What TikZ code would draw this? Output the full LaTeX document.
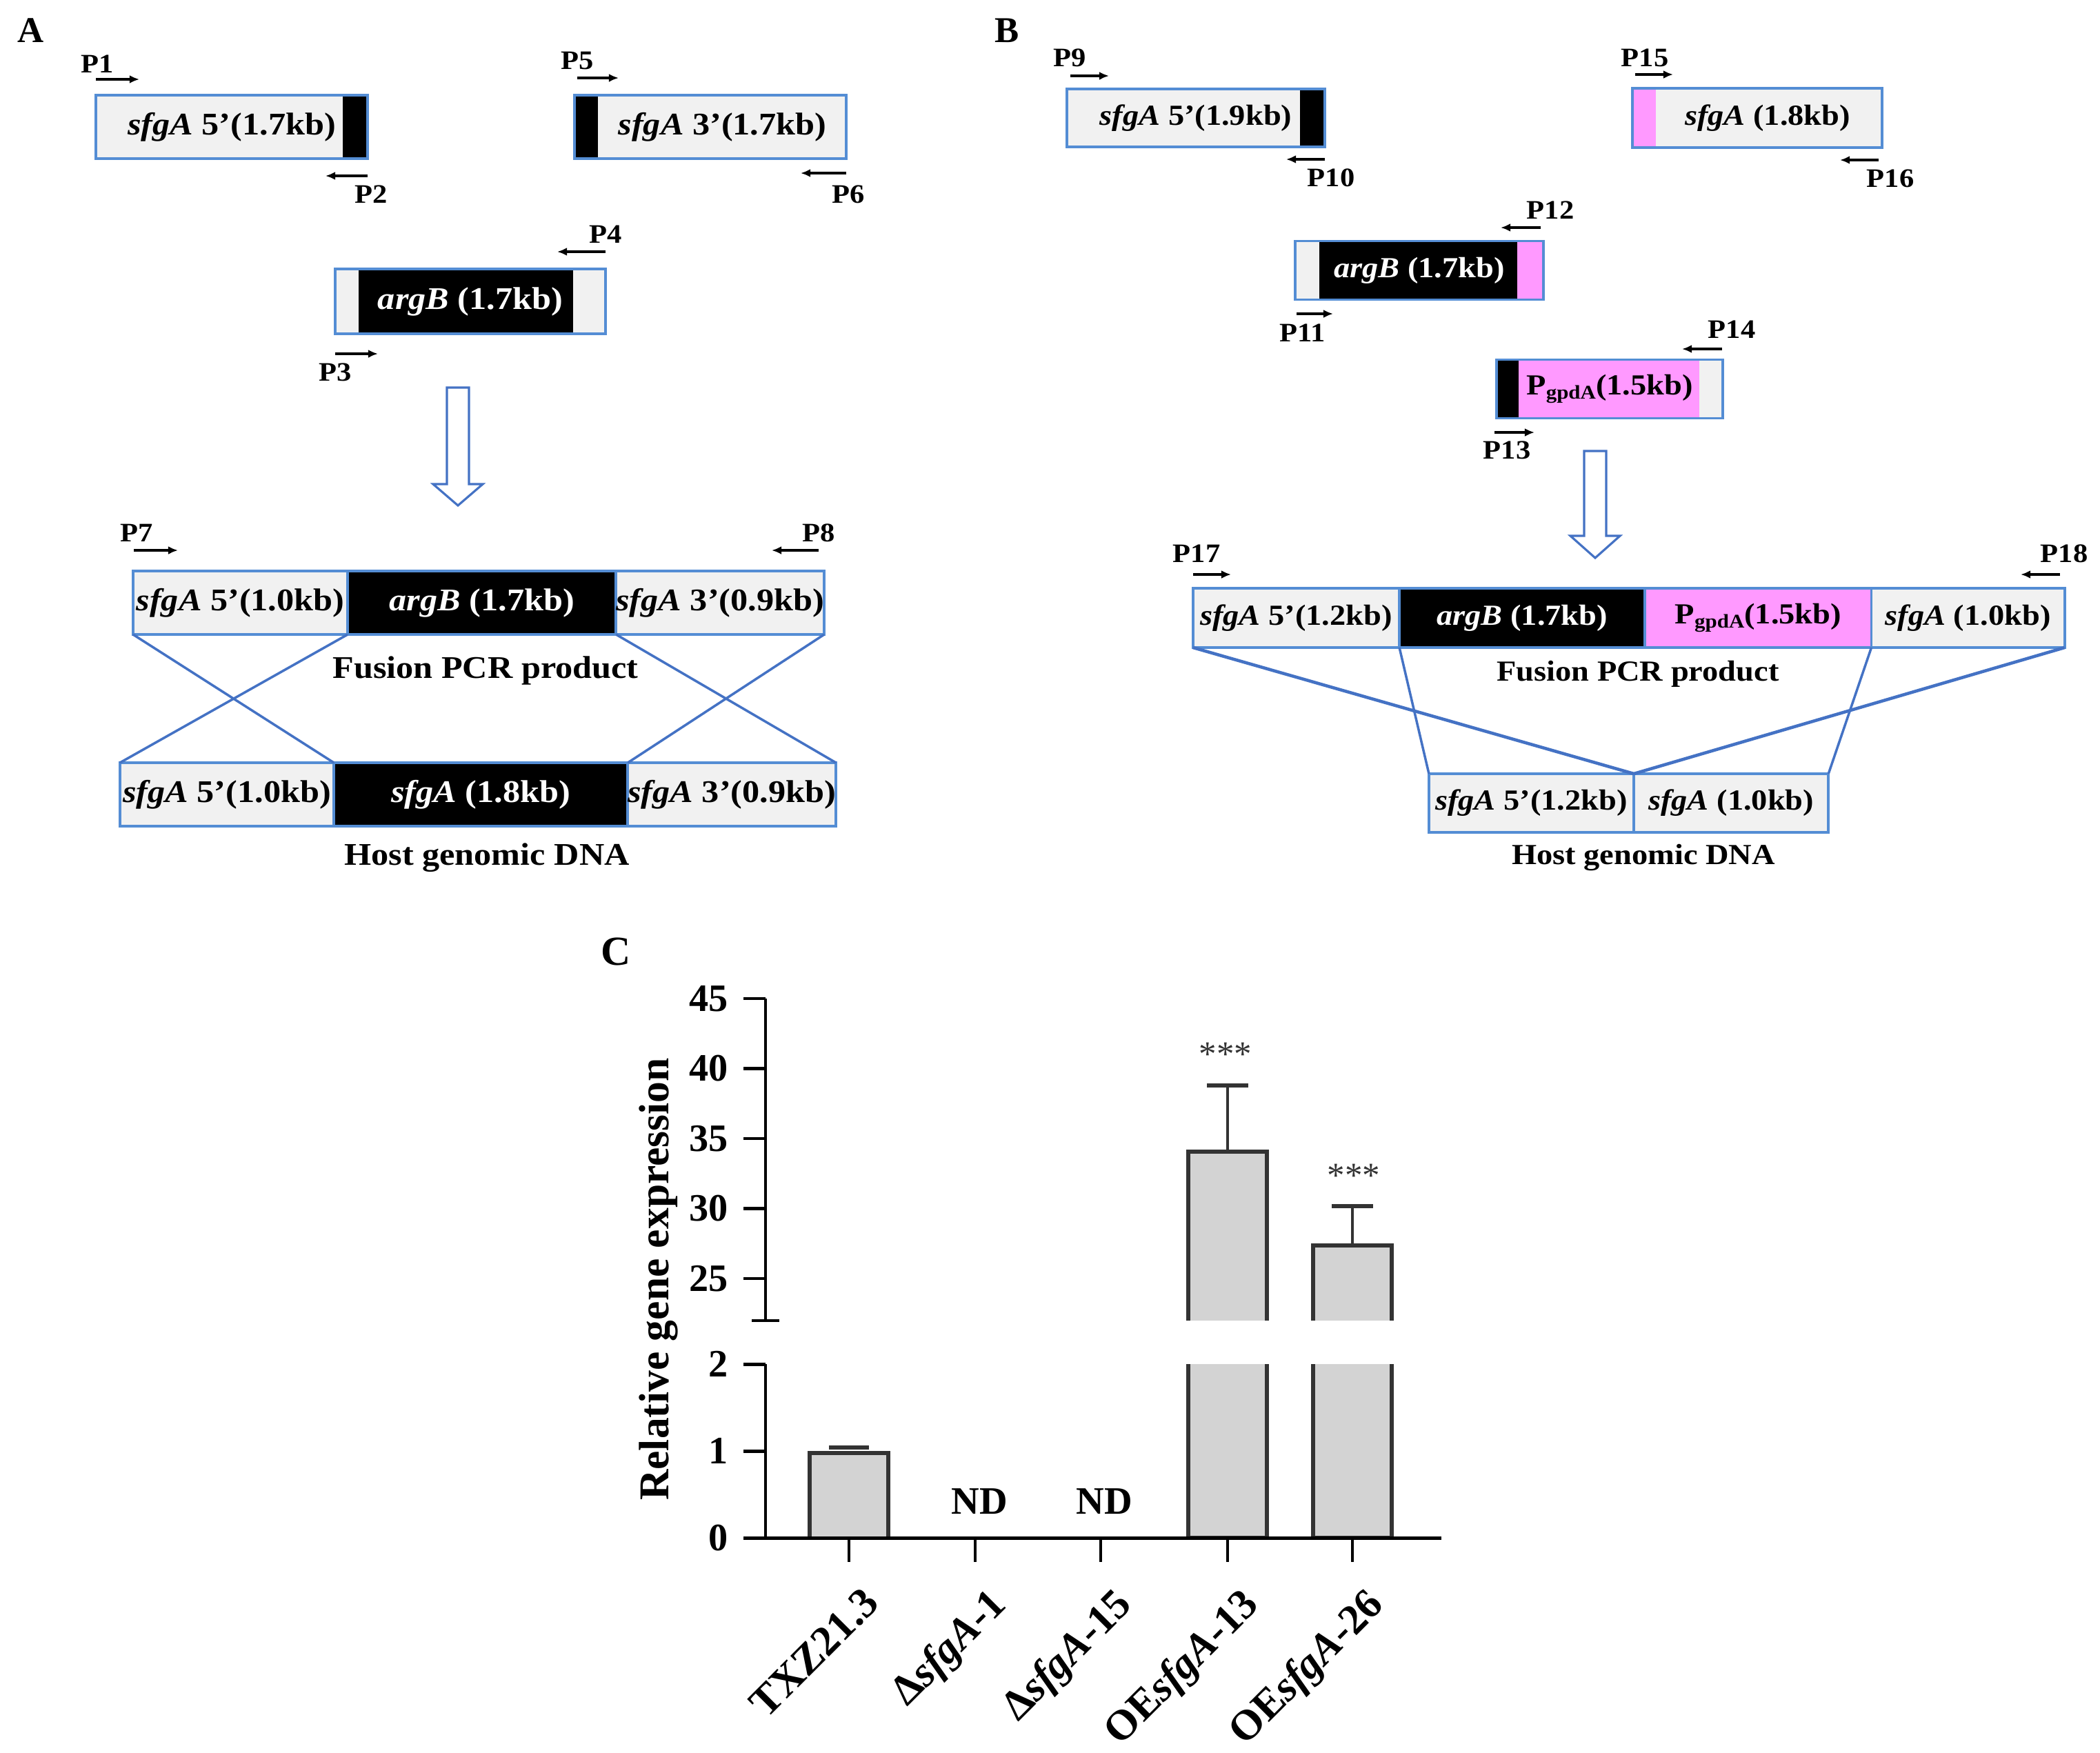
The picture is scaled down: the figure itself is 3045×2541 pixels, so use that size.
\documentclass[tikz,border=0pt]{standalone}
\usepackage{fontspec}
\setmainfont{Liberation Serif}
\newfontfamily\dnafont{Liberation Serif}[FakeStretch=1.1]
\usetikzlibrary{arrows.meta,positioning}

\definecolor{dnaedge}{RGB}{84,141,212}
\definecolor{crossblue}{RGB}{68,114,196}
\definecolor{dnagrey}{RGB}{241,241,241}
\definecolor{dnapink}{RGB}{255,153,255}
\definecolor{barfill}{RGB}{211,211,211}
\definecolor{baredge}{RGB}{51,51,51}

\tikzset{
  dna/.style={draw=dnaedge,line width=1.1pt,fill=dnagrey,inner sep=0pt,outer sep=0pt},
  gene/.style={dna,fill=black,text=white},
  pgene/.style={dna,fill=dnapink},
  atext/.style={font=\dnafont\bfseries\fontsize{13}{15}\selectfont},
  btext/.style={font=\dnafont\bfseries\fontsize{12}{14}\selectfont},
  endR/.style={path picture={\fill[#1] ([xshift=-0.36cm]path picture bounding box.north east) %
    rectangle (path picture bounding box.south east) ;}},
  endL/.style={path picture={\fill[#1] (path picture bounding box.north west) %
    rectangle ([xshift=0.34cm]path picture bounding box.south west) ;}},
  band/.style n args={3}{path picture={\fill[#1] ([xshift=#2]path picture bounding box.north west) %
    rectangle ([xshift=#3]path picture bounding box.south west) ;}},
  band2/.style n args={5}{path picture={\fill[#1] ([xshift=#2]path picture bounding box.north west) %
    rectangle ([xshift=#3]path picture bounding box.south west) ;
    \fill[#4] ([xshift=#3]path picture bounding box.north west) %
    rectangle ([xshift=#5]path picture bounding box.south west) ;}},
  primer/.style={line width=1pt,-{Latex[length=4pt,width=3.4pt]}},
  plabel/.style={font=\dnafont\bfseries\fontsize{11}{13}\selectfont},
  cross/.style={draw=crossblue,line width=1pt},
  hollow/.style={draw=crossblue,line width=0.9pt,fill=white,line join=miter},
  panel/.style={font=\bfseries\fontsize{15}{17}\selectfont},
  axis/.style={line width=1.4pt},
  bar/.style={draw=baredge,fill=barfill,line width=1.5pt},
  errbar/.style={draw=baredge,line width=1.3pt},
  errcap/.style={draw=baredge,line width=1.7pt},
  ytick/.style={anchor=east,font=\bfseries\fontsize{16}{18}\selectfont},
  xlab/.style={anchor=north east,rotate=45,inner sep=0pt,font=\bfseries\fontsize{17.5}{19}\selectfont},
  nd/.style={anchor=base,font=\bfseries\fontsize{16}{18}\selectfont},
  stars/.style={anchor=base,text=baredge,font=\fontsize{14.5}{16}\selectfont},
}

\begin{document}
\begin{tikzpicture}[x=0.01cm,y=-0.01cm]
  \useasboundingbox (0,0) rectangle (3045,2541) ;

  % A
  \node[panel] (labA) at (45,44) {A} ;
  \node[dna,atext,minimum width=3.94cm,minimum height=0.92cm,endR=black] %
    (a1) at (336,184) {\textit{sfgA} 5’(1.7kb)} ;
  \node[dna,atext,minimum width=3.94cm,minimum height=0.92cm,endL=black] %
    (a2) at (1030,184) {\hspace{0.35cm}\textit{sfgA} 3’(1.7kb)} ;
  \node[dna,atext,text=white,minimum width=3.92cm,minimum height=0.94cm,%
    band={black}{0.34cm}{3.45cm}] (a3) at (682,437) {\textit{argB} (1.7kb)} ;

  \draw[hollow] (648,562) -- (680,562) -- (680,702) -- (700,702) -- (664,733) %
    -- (628,702) -- (648,702) -- cycle ;

  \node[dna,atext,minimum width=3.11cm,minimum height=0.92cm] %
    (fa1) at (348.5,874) {\textit{sfgA} 5’(1.0kb)} ;
  \node[gene,atext,minimum width=3.89cm,minimum height=0.92cm,right=0pt of fa1] %
    (fa2) {\textit{argB} (1.7kb)} ;
  \node[dna,atext,minimum width=2.96cm,minimum height=0.92cm,right=0pt of fa2] %
    (fa3) {\textit{sfgA} 3’(0.9kb)} ;
  \node[atext,anchor=base] (capfa) at (704,983) {Fusion PCR product} ;

  \node[dna,atext,minimum width=3.10cm,minimum height=0.92cm] %
    (ha1) at (329,1152) {\textit{sfgA} 5’(1.0kb)} ;
  \node[gene,atext,minimum width=4.26cm,minimum height=0.92cm,right=0pt of ha1] %
    (ha2) {\textit{sfgA} (1.8kb)} ;
  \node[dna,atext,minimum width=2.94cm,minimum height=0.92cm,right=0pt of ha2] %
    (ha3) {\textit{sfgA} 3’(0.9kb)} ;
  \node[atext,anchor=base] (capha) at (706,1254) {Host genomic DNA} ;

  \draw[cross] (fa1.south west) -- (ha2.north west) ;
  \draw[cross] (fa2.south west) -- (ha1.north west) ;
  \draw[cross] (fa3.south west) -- (ha3.north east) ;
  \draw[cross] (fa3.south east) -- (ha3.north west) ;

  % B
  \node[panel] (labB) at (1460,44) {B} ;
  \node[dna,btext,minimum width=3.74cm,minimum height=0.84cm,endR=black] %
    (b1) at (1734,171) {\textit{sfgA} 5’(1.9kb)} ;
  \node[dna,btext,minimum width=3.61cm,minimum height=0.86cm,endL=dnapink] %
    (b2) at (2548,171) {\hspace{0.3cm}\textit{sfgA} (1.8kb)} ;
  \node[dna,btext,text=white,minimum width=3.60cm,minimum height=0.85cm,%
    band2={black}{0.35cm}{3.22cm}{dnapink}{3.60cm}] %
    (b3) at (2058,392) {\textit{argB} (1.7kb)\hspace{0.1cm}} ;
  \node[dna,btext,minimum width=3.27cm,minimum height=0.85cm,%
    band2={black}{0cm}{0.32cm}{dnapink}{2.93cm}] %
    (b4) at (2334,564) {P\raisebox{-0.3ex}{\fontsize{8}{9}\selectfont gpdA}(1.5kb)} ;

  \draw[hollow] (2297,654) -- (2329,654) -- (2329,777) -- (2349,777) -- (2313,809) %
    -- (2277,777) -- (2297,777) -- cycle ;

  \node[dna,btext,minimum width=2.99cm,minimum height=0.86cm] %
    (fb1) at (1879.5,896) {\textit{sfgA} 5’(1.2kb)} ;
  \node[gene,btext,minimum width=3.56cm,minimum height=0.86cm,right=0pt of fb1] %
    (fb2) {\textit{argB} (1.7kb)} ;
  \node[pgene,btext,minimum width=3.28cm,minimum height=0.86cm,right=0pt of fb2] %
    (fb3) {P\raisebox{-0.3ex}{\fontsize{8}{9}\selectfont gpdA}(1.5kb)} ;
  \node[dna,btext,minimum width=2.80cm,minimum height=0.86cm,right=0pt of fb3] %
    (fb4) {\textit{sfgA} (1.0kb)} ;
  \node[btext,anchor=base] (capfb) at (2375,987) {Fusion PCR product} ;

  \node[dna,btext,minimum width=2.97cm,minimum height=0.85cm] %
    (hb1) at (2220.5,1164.5) {\textit{sfgA} 5’(1.2kb)} ;
  \node[dna,btext,minimum width=2.82cm,minimum height=0.85cm,right=0pt of hb1] %
    (hb2) {\textit{sfgA} (1.0kb)} ;
  \node[btext,anchor=base] (caphb) at (2383,1253) {Host genomic DNA} ;

  \draw[cross,line width=1.3pt] (fb1.south west) -- (hb1.north east) ;
  \draw[cross,line width=1.3pt] (fb4.south east) -- (hb1.north east) ;
  \draw[cross] (fb2.south west) -- (hb1.north west) ;
  \draw[cross] (fb4.south west) -- (hb2.north east) ;

  % primers
  \foreach \n/\xa/\xb/\ya/\xl/\yl in {1/139/202/115/141/93, 2/533/472/255/538/282,%
      3/486/548/513/486/540, 4/878/808/365/878/340, 5/837/897/113/837/88,%
      6/1227/1161/251/1230/282, 7/194/258/798/198/773, 8/1187/1119/798/1187/773,%
      9/1552/1608/110/1551/84, 10/1921/1865/231/1930/258, 11/1880/1933/455/1889/483,%
      12/2234/2176/330/2248/305, 13/2167/2225/627/2185/653, 14/2497/2439/506/2511/478,%
      15/2371/2426/108/2385/84, 16/2724/2668/232/2741/259, 17/1730/1785/833/1735/803,%
      18/2987/2930/833/2993/803}{
    \draw[primer] (\xa,\ya) -- (\xb,\ya) ;
    \node[plabel] (P\n) at (\xl,\yl) {P\n} ;
  }

  % C
  \node[panel,font=\bfseries\fontsize{17}{19}\selectfont] (labC) at (893,1380) {C} ;

  \filldraw[bar] (1174,2230) -- (1174,2107) -- (1288,2107) -- (1288,2230) ;
  \draw[errcap] (1202,2099) -- (1260,2099) ;

  \filldraw[bar] (1723,1915) -- (1723,1670) -- (1837,1670) -- (1837,1915) ;
  \filldraw[bar] (1723,1978) -- (1723,2230) -- (1837,2230) -- (1837,1978) ;
  \draw[errbar] (1780,1670) -- (1780,1574) ;
  \draw[errcap] (1750,1574) -- (1810,1574) ;

  \filldraw[bar] (1904,1915) -- (1904,1806) -- (2018,1806) -- (2018,1915) ;
  \filldraw[bar] (1904,1978) -- (1904,2230) -- (2018,2230) -- (2018,1978) ;
  \draw[errbar] (1961,1806) -- (1961,1749) ;
  \draw[errcap] (1931,1749) -- (1991,1749) ;

  \draw[axis] (1110,1448) -- (1110,1915) ;
  \draw[axis] (1090,1915) -- (1130,1915) ;
  \draw[axis] (1110,1978) -- (1110,2230) ;
  \draw[axis] (1078,2230) -- (2090,2230) ;
  \foreach \v/\y in {45/1448,40/1549.5,35/1651,30/1752.5,25/1854,2/1978,1/2104,0/2230}{
    \draw[axis] (1078,\y) -- (1110,\y) ;
    \node[ytick] (yt\v) at (1068,\y) {\v} ;
  }
  \foreach \x/\lab [count=\i] in {1231/TXZ21.3, 1414/{Δ\textit{sfgA}-1},%
      1596/{Δ\textit{sfgA}-15}, 1780/{OE\textit{sfgA}-13}, 1961/{OE\textit{sfgA}-26}}{
    \draw[axis] (\x,2230) -- (\x,2265) ;
    \node[xlab] (xl\i) at (\x+17,2298) {\lab} ;
  }
  \node[rotate=90,font=\bfseries\fontsize{17.5}{19}\selectfont] %
    (ylab) at (955,1855) {Relative gene expression} ;

  \node[nd] (nd1) at (1420,2195) {ND} ;
  \node[nd] (nd2) at (1601,2195) {ND} ;
  \node[stars] (st13) at (1777,1545) {***} ;
  \node[stars] (st26) at (1963,1721) {***} ;
\end{tikzpicture}
\end{document}
